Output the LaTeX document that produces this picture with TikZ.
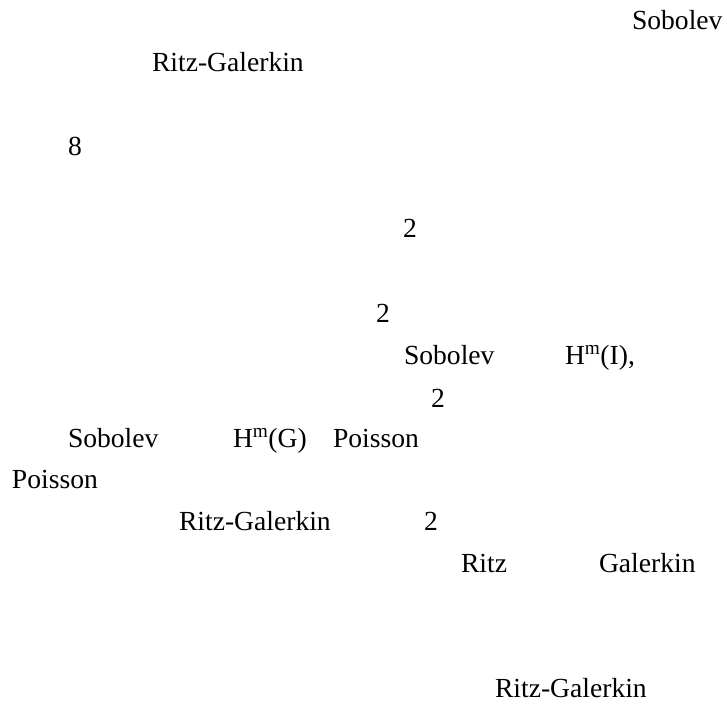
\documentclass[tikz,border=0pt]{standalone}
\usepackage{fontspec}
\setmainfont{Liberation Serif}
\usepackage{tikz}
\tikzstyle{word} = [anchor=base west, inner sep=0pt, outer sep=0pt, font=\fontsize{27.6}{33}\selectfont]
\begin{document}
\begin{tikzpicture}[x=1pt, y=-1pt]
    \useasboundingbox (0,0) rectangle (727,706);
    \node (sob1) [word] at (632,30) {Sobolev};
    \node (rg1) [word] at (152,72) {Ritz-Galerkin};
    \node (eight) [word] at (68,155) {8};
    \node (two1) [word] at (403,237) {2};
    \node (two2) [word] at (376,322) {2};
    \node (sob2) [word] at (404,364) {Sobolev};
    \node (hmi) [word] at (565,364) {H\textsuperscript{m}(I),};
    \node (two3) [word] at (431,407) {2};
    \node (sob3) [word] at (68,447) {Sobolev};
    \node (hmg) [word] at (233,447) {H\textsuperscript{m}(G)};
    \node (poi1) [word] at (333,447) {Poisson};
    \node (poi2) [word] at (12,488) {Poisson};
    \node (rg2) [word] at (179,530) {Ritz-Galerkin};
    \node (two4) [word] at (424,530) {2};
    \node (ritz) [word] at (461,572) {Ritz};
    \node (gal) [word] at (599,572) {Galerkin};
    \node (rg3) [word] at (495,697) {Ritz-Galerkin};
\end{tikzpicture}
\end{document}
